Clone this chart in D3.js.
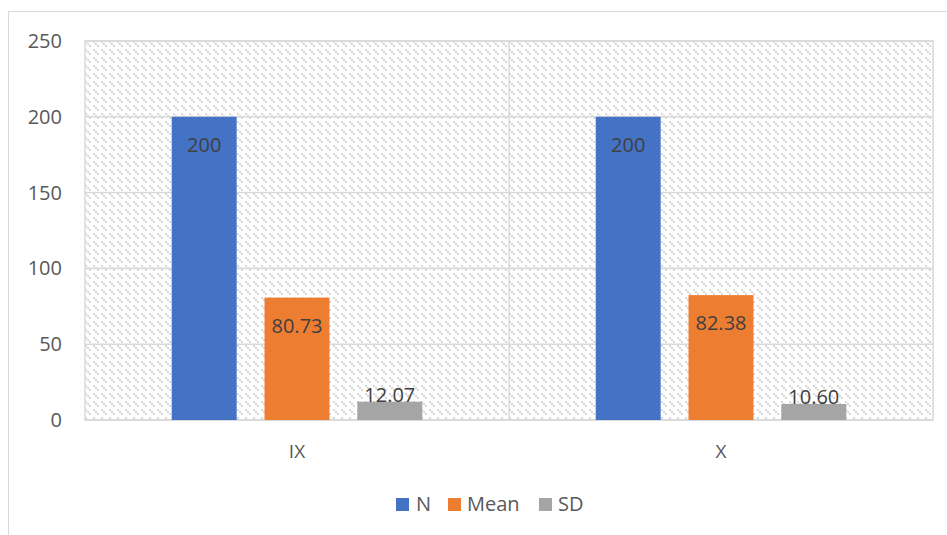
<!DOCTYPE html>
<html>
<head>
<meta charset="utf-8">
<script src="https://cdn.jsdelivr.net/npm/d3@7"></script>
<style>
  html, body { margin: 0; padding: 0; background: #fff; }
  svg { display: block; }
  text { font-family: "Open Sans", Lato, "Liberation Sans", sans-serif; }
</style>
</head>
<body>
<svg id="chart" width="947" height="535"></svg>
<script>
// Chart data
const categories = ["IX", "X"];
const seriesNames = ["N", "Mean", "SD"];
const seriesColors = ["#4472C4", "#ED7D31", "#A5A5A5"];
const nValues = [200, 200];
const meanValues = [80.73, 82.38];
const sdValues = [12.07, 10.60];
const labelTexts = [["200", "80.73", "12.07"], ["200", "82.38", "10.60"]];
const yTicks = [0, 50, 100, 150, 200, 250];

const seriesValues = [nValues, meanValues, sdValues];

const svg = d3.select("#chart");
const W = 947, H = 535;
const plot = { left: 85, top: 41, right: 933, bottom: 420 };

// Hatched background pattern for the plot area (stepped diagonal dashes)
const defs = svg.append("defs");
const pat = defs.append("pattern")
  .attr("id", "hatch")
  .attr("patternUnits", "userSpaceOnUse")
  .attr("x", plot.left).attr("y", plot.top)
  .attr("width", 8).attr("height", 8);
pat.append("rect").attr("width", 8).attr("height", 8).attr("fill", "#ffffff");
[[0, 0], [2, 2], [4, 4]].forEach(([x, y]) => {
  pat.append("rect").attr("x", x).attr("y", y).attr("width", 2).attr("height", 2).attr("fill", "#d6d6d6");
});

// Outer chart frame
svg.append("rect")
  .attr("x", 8.5).attr("y", 11.5)
  .attr("width", W + 20).attr("height", H + 20)
  .attr("fill", "#fff").attr("stroke", "#d9d9d9").attr("stroke-width", 1);

const y = d3.scaleLinear().domain([0, 250]).range([plot.bottom, plot.top]);
const x0 = d3.scaleBand().domain(categories).range([plot.left, plot.right]);
const x1 = d3.scaleBand().domain(seriesNames).range([0, x0.bandwidth()])
  .paddingInner(0.30).paddingOuter(0.934);

// Plot area fill
svg.append("rect")
  .attr("x", plot.left).attr("y", plot.top)
  .attr("width", plot.right - plot.left).attr("height", plot.bottom - plot.top)
  .attr("fill", "url(#hatch)")
  .attr("stroke", "#d9d9d9").attr("stroke-width", 1.5);

// Horizontal gridlines
svg.append("g").selectAll("line").data(yTicks).join("line")
  .attr("x1", plot.left).attr("x2", plot.right)
  .attr("y1", d => y(d)).attr("y2", d => y(d))
  .attr("stroke", "#d9d9d9").attr("stroke-width", 1.5);

// Vertical category separator
svg.append("line")
  .attr("x1", x0("X")).attr("x2", x0("X"))
  .attr("y1", plot.top).attr("y2", plot.bottom)
  .attr("stroke", "#d9d9d9").attr("stroke-width", 1.5);

// Y axis
const yAxis = d3.axisLeft(y).tickValues(yTicks).tickSize(0).tickPadding(23);
const yg = svg.append("g").attr("transform", `translate(${plot.left},0)`).call(yAxis);
yg.select(".domain").remove();
yg.selectAll("text").attr("fill", "#595959").attr("font-size", 20).attr("font-family", null);

// X axis
const xAxis = d3.axisBottom(x0).tickSize(0);
const xg = svg.append("g").attr("transform", `translate(0,${plot.bottom})`).call(xAxis);
xg.select(".domain").remove();
xg.selectAll("text").attr("y", 38).attr("dy", null)
  .attr("fill", "#595959").attr("font-size", 19).attr("font-family", null);

// Bars with value labels
const groups = svg.append("g").selectAll("g").data(categories).join("g")
  .attr("transform", d => `translate(${x0(d)},0)`);

groups.each(function(cat, ci) {
  const g = d3.select(this);
  seriesNames.forEach((s, si) => {
    const v = seriesValues[si][ci];
    const top = y(v);
    const h = plot.bottom - top;
    g.append("rect")
      .attr("x", x1(s)).attr("y", top)
      .attr("width", x1.bandwidth()).attr("height", h)
      .attr("fill", seriesColors[si]);
    const ly = h > 40 ? top + 35 : top + 0.5;
    g.append("text")
      .attr("x", x1(s) + x1.bandwidth() / 2).attr("y", ly)
      .attr("text-anchor", "middle")
      .attr("fill", "#404040").attr("font-size", 20)
      .text(labelTexts[ci][si]);
  });
});

// Legend
const legendItems = [
  { name: "N", x: 396, tx: 416 },
  { name: "Mean", x: 448, tx: 467 },
  { name: "SD", x: 539, tx: 558 }
];
const lg = svg.append("g");
legendItems.forEach((it, i) => {
  lg.append("rect").attr("x", it.x).attr("y", 498).attr("width", 13).attr("height", 13)
    .attr("fill", seriesColors[i]);
  lg.append("text").attr("x", it.tx).attr("y", 511)
    .attr("fill", "#595959").attr("font-size", 20).text(it.name);
});
</script>
</body>
</html>
